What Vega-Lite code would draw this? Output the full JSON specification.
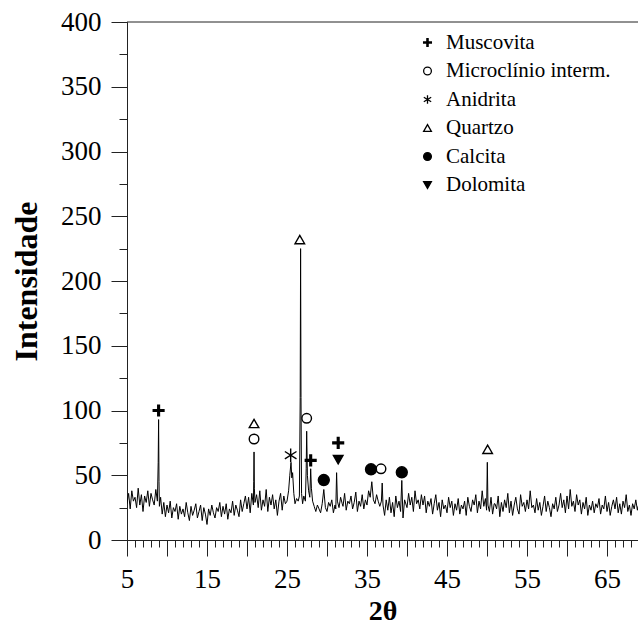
{
  "$schema": "https://vega.github.io/schema/vega-lite/v6.json",
  "width": 511,
  "height": 518,
  "autosize": {"type": "none"},
  "padding": {"left": 127, "top": 22, "right": 0, "bottom": 98},
  "background": "white",
  "config": {"view": {"stroke": null}, "font": "Liberation Serif"},
  "resolve": {"axis": {"x": "independent", "y": "independent"}},
  "layer": [
    {
      "data": {"values": [
        {"x":5.0,"y":28},{"x":5.2,"y":36},{"x":5.4,"y":24},{"x":5.6,"y":38},{"x":5.8,"y":30},
        {"x":6.0,"y":33},{"x":6.2,"y":25},{"x":6.4,"y":40},{"x":6.6,"y":27},{"x":6.8,"y":35},
        {"x":7.0,"y":22},{"x":7.2,"y":34},{"x":7.4,"y":29},{"x":7.6,"y":38},{"x":7.8,"y":26},
        {"x":8.0,"y":36},{"x":8.2,"y":31},{"x":8.4,"y":27},{"x":8.6,"y":39},{"x":8.8,"y":30},
        {"x":8.9,"y":60},{"x":8.95,"y":93},{"x":9.0,"y":45},{"x":9.05,"y":26},
        {"x":9.2,"y":33},{"x":9.4,"y":20},{"x":9.6,"y":29},{"x":9.8,"y":18},
        {"x":10.0,"y":27},{"x":10.2,"y":21},{"x":10.4,"y":30},{"x":10.6,"y":17},{"x":10.8,"y":25},
        {"x":11.0,"y":22},{"x":11.2,"y":28},{"x":11.4,"y":16},{"x":11.6,"y":26},{"x":11.8,"y":20},
        {"x":12.0,"y":24},{"x":12.2,"y":18},{"x":12.4,"y":29},{"x":12.6,"y":21},{"x":12.8,"y":15},
        {"x":13.0,"y":26},{"x":13.2,"y":19},{"x":13.4,"y":23},{"x":13.6,"y":28},{"x":13.8,"y":17},
        {"x":14.0,"y":22},{"x":14.2,"y":27},{"x":14.4,"y":15},{"x":14.6,"y":25},{"x":14.8,"y":20},
        {"x":15.0,"y":12},{"x":15.2,"y":24},{"x":15.4,"y":19},{"x":15.6,"y":27},{"x":15.8,"y":21},
        {"x":16.0,"y":17},{"x":16.2,"y":25},{"x":16.4,"y":22},{"x":16.6,"y":29},{"x":16.8,"y":18},
        {"x":17.0,"y":26},{"x":17.2,"y":20},{"x":17.4,"y":28},{"x":17.6,"y":16},{"x":17.8,"y":24},
        {"x":18.0,"y":21},{"x":18.2,"y":30},{"x":18.4,"y":19},{"x":18.6,"y":27},{"x":18.8,"y":23},
        {"x":19.0,"y":18},{"x":19.2,"y":31},{"x":19.4,"y":22},{"x":19.6,"y":28},{"x":19.8,"y":34},
        {"x":20.0,"y":24},{"x":20.2,"y":33},{"x":20.4,"y":21},{"x":20.6,"y":36},{"x":20.8,"y":27},
        {"x":20.84,"y":45},{"x":20.88,"y":68},{"x":20.92,"y":40},{"x":21.0,"y":29},
        {"x":21.2,"y":35},{"x":21.4,"y":25},{"x":21.6,"y":38},{"x":21.8,"y":23},
        {"x":22.0,"y":31},{"x":22.2,"y":26},{"x":22.4,"y":39},{"x":22.6,"y":22},{"x":22.8,"y":33},
        {"x":23.0,"y":27},{"x":23.2,"y":35},{"x":23.4,"y":24},{"x":23.6,"y":31},{"x":23.8,"y":19},
        {"x":24.0,"y":30},{"x":24.2,"y":36},{"x":24.4,"y":23},{"x":24.6,"y":34},{"x":24.8,"y":28},
        {"x":25.0,"y":30},{"x":25.2,"y":38},{"x":25.35,"y":50},{"x":25.5,"y":60},{"x":25.6,"y":48},
        {"x":25.7,"y":52},{"x":25.85,"y":36},{"x":26.0,"y":28},{"x":26.2,"y":32},{"x":26.4,"y":30},
        {"x":26.55,"y":34},{"x":26.65,"y":110},{"x":26.7,"y":225},{"x":26.75,"y":110},{"x":26.82,"y":36},
        {"x":26.95,"y":28},{"x":27.1,"y":34},{"x":27.3,"y":30},{"x":27.4,"y":55},{"x":27.46,"y":84},
        {"x":27.55,"y":50},{"x":27.7,"y":38},{"x":27.85,"y":33},{"x":27.96,"y":55},{"x":28.05,"y":40},
        {"x":28.2,"y":30},{"x":28.4,"y":26},{"x":28.6,"y":22},{"x":28.8,"y":27},
        {"x":29.0,"y":24},{"x":29.2,"y":21},{"x":29.4,"y":28},{"x":29.6,"y":39},{"x":29.8,"y":25},
        {"x":30.0,"y":22},{"x":30.2,"y":29},{"x":30.4,"y":26},{"x":30.6,"y":31},{"x":30.8,"y":21},
        {"x":31.0,"y":27},{"x":31.1,"y":24},{"x":31.2,"y":52},{"x":31.3,"y":30},{"x":31.5,"y":25},
        {"x":31.7,"y":33},{"x":31.9,"y":28},
        {"x":32.0,"y":26},{"x":32.2,"y":36},{"x":32.4,"y":23},{"x":32.6,"y":30},{"x":32.8,"y":28},
        {"x":33.0,"y":34},{"x":33.2,"y":24},{"x":33.4,"y":29},{"x":33.6,"y":37},{"x":33.8,"y":22},
        {"x":34.0,"y":30},{"x":34.2,"y":26},{"x":34.4,"y":35},{"x":34.6,"y":24},{"x":34.8,"y":31},
        {"x":35.0,"y":27},{"x":35.2,"y":38},{"x":35.4,"y":33},{"x":35.6,"y":45},{"x":35.8,"y":31},
        {"x":36.0,"y":28},{"x":36.2,"y":35},{"x":36.4,"y":30},{"x":36.6,"y":26},{"x":36.8,"y":30},
        {"x":36.9,"y":44},{"x":37.0,"y":27},
        {"x":37.2,"y":19},{"x":37.4,"y":31},{"x":37.6,"y":23},{"x":37.8,"y":33},
        {"x":38.0,"y":21},{"x":38.2,"y":29},{"x":38.4,"y":18},{"x":38.6,"y":34},{"x":38.8,"y":25},
        {"x":39.0,"y":30},{"x":39.2,"y":22},{"x":39.35,"y":46},{"x":39.5,"y":17},{"x":39.7,"y":31},
        {"x":40.0,"y":25},{"x":40.2,"y":36},{"x":40.4,"y":27},{"x":40.6,"y":33},{"x":40.8,"y":22},
        {"x":41.0,"y":38},{"x":41.2,"y":28},{"x":41.4,"y":31},{"x":41.6,"y":24},{"x":41.8,"y":35},
        {"x":42.0,"y":27},{"x":42.2,"y":34},{"x":42.4,"y":21},{"x":42.6,"y":30},{"x":42.8,"y":26},
        {"x":43.0,"y":32},{"x":43.2,"y":20},{"x":43.4,"y":28},{"x":43.6,"y":35},{"x":43.8,"y":23},
        {"x":44.0,"y":29},{"x":44.2,"y":18},{"x":44.4,"y":31},{"x":44.6,"y":24},{"x":44.8,"y":27},
        {"x":45.0,"y":21},{"x":45.2,"y":33},{"x":45.4,"y":25},{"x":45.6,"y":30},{"x":45.8,"y":19},
        {"x":46.0,"y":28},{"x":46.2,"y":23},{"x":46.4,"y":32},{"x":46.6,"y":20},{"x":46.8,"y":27},
        {"x":47.0,"y":24},{"x":47.2,"y":30},{"x":47.4,"y":19},{"x":47.6,"y":33},{"x":47.8,"y":26},
        {"x":48.0,"y":22},{"x":48.2,"y":31},{"x":48.4,"y":27},{"x":48.6,"y":35},{"x":48.8,"y":21},
        {"x":49.0,"y":30},{"x":49.2,"y":24},{"x":49.4,"y":38},{"x":49.6,"y":26},{"x":49.8,"y":32},
        {"x":49.95,"y":23},{"x":50.04,"y":60},{"x":50.12,"y":27},
        {"x":50.3,"y":22},{"x":50.5,"y":33},{"x":50.7,"y":20},{"x":50.9,"y":28},
        {"x":51.0,"y":28},{"x":51.2,"y":24},{"x":51.4,"y":34},{"x":51.6,"y":18},{"x":51.8,"y":29},
        {"x":52.0,"y":22},{"x":52.2,"y":31},{"x":52.4,"y":25},{"x":52.6,"y":36},{"x":52.8,"y":21},
        {"x":53.0,"y":30},{"x":53.2,"y":19},{"x":53.4,"y":27},{"x":53.6,"y":33},{"x":53.8,"y":24},
        {"x":54.0,"y":20},{"x":54.2,"y":35},{"x":54.4,"y":26},{"x":54.6,"y":29},{"x":54.8,"y":22},
        {"x":55.0,"y":31},{"x":55.2,"y":24},{"x":55.4,"y":38},{"x":55.6,"y":25},{"x":55.8,"y":27},
        {"x":56.0,"y":21},{"x":56.2,"y":32},{"x":56.4,"y":23},{"x":56.6,"y":29},{"x":56.8,"y":19},
        {"x":57.0,"y":26},{"x":57.2,"y":34},{"x":57.4,"y":22},{"x":57.6,"y":30},{"x":57.8,"y":25},
        {"x":58.0,"y":18},{"x":58.2,"y":28},{"x":58.4,"y":24},{"x":58.6,"y":33},{"x":58.8,"y":22},
        {"x":59.0,"y":27},{"x":59.2,"y":36},{"x":59.4,"y":25},{"x":59.6,"y":31},{"x":59.8,"y":21},
        {"x":60.0,"y":34},{"x":60.2,"y":24},{"x":60.4,"y":39},{"x":60.6,"y":26},{"x":60.8,"y":30},
        {"x":61.0,"y":22},{"x":61.2,"y":35},{"x":61.4,"y":27},{"x":61.6,"y":31},{"x":61.8,"y":20},
        {"x":62.0,"y":29},{"x":62.2,"y":24},{"x":62.4,"y":33},{"x":62.6,"y":19},{"x":62.8,"y":27},
        {"x":63.0,"y":23},{"x":63.2,"y":30},{"x":63.4,"y":21},{"x":63.6,"y":28},{"x":63.8,"y":25},
        {"x":64.0,"y":32},{"x":64.2,"y":20},{"x":64.4,"y":27},{"x":64.6,"y":24},{"x":64.8,"y":34},
        {"x":65.0,"y":22},{"x":65.2,"y":29},{"x":65.4,"y":19},{"x":65.6,"y":26},{"x":65.8,"y":31},
        {"x":66.0,"y":24},{"x":66.2,"y":33},{"x":66.4,"y":21},{"x":66.6,"y":28},{"x":66.8,"y":20},
        {"x":67.0,"y":30},{"x":67.2,"y":25},{"x":67.4,"y":35},{"x":67.6,"y":22},{"x":67.8,"y":27},
        {"x":68.0,"y":19},{"x":68.2,"y":28},{"x":68.4,"y":24},{"x":68.6,"y":31},{"x":68.8,"y":23},
        {"x":68.875,"y":26}
      ]},
      "mark": {"type": "line", "color": "black", "strokeWidth": 1, "clip": true},
      "encoding": {
        "x": {
          "field": "x", "type": "quantitative",
          "scale": {"domain": [5, 68.875], "nice": false, "zero": false},
          "axis": {
            "orient": "bottom",
            "values": [5,10,15,20,25,30,35,40,45,50,55,60,65],
            "labelExpr": "(datum.value - 5) % 10 === 0 ? datum.label : ''",
            "tickSize": 16,
            "grid": false,
            "domainColor": "#222", "tickColor": "#222",
            "labelFont": "Liberation Serif", "labelFontSize": 27, "labelColor": "black",
            "labelPadding": 10, "labelFlush": false, "labelOverlap": false, "labelBound": false,
            "title": "2θ", "titleFont": "Liberation Serif", "titleFontSize": 28,
            "titleFontWeight": "bold", "titleColor": "black", "titlePadding": 5
          }
        },
        "y": {
          "field": "y", "type": "quantitative",
          "scale": {"domain": [0, 400], "nice": false},
          "axis": {
            "orient": "left",
            "values": [0,50,100,150,200,250,300,350,400],
            "tickSize": 16,
            "grid": false,
            "domainColor": "#222", "tickColor": "#222",
            "labelFont": "Liberation Serif", "labelFontSize": 27, "labelColor": "black",
            "labelPadding": 10, "labelFlush": false, "labelOverlap": false, "labelBound": false,
            "title": "Intensidade", "titleFont": "Liberation Serif", "titleFontSize": 32,
            "titleFontWeight": "bold", "titleColor": "black", "titlePadding": 17
          }
        }
      }
    },
    {
      "data": {"values": [
        {"x": 8.95, "y": 100, "mineral": "Muscovita"},
        {"x": 27.96, "y": 61.5, "mineral": "Muscovita"},
        {"x": 31.4, "y": 75, "mineral": "Muscovita"},
        {"x": 20.88, "y": 78, "mineral": "Microclínio interm."},
        {"x": 27.46, "y": 94, "mineral": "Microclínio interm."},
        {"x": 36.75, "y": 55, "mineral": "Microclínio interm."},
        {"x": 25.46, "y": 65.5, "mineral": "Anidrita"},
        {"x": 20.88, "y": 90, "mineral": "Quartzo"},
        {"x": 26.6, "y": 232, "mineral": "Quartzo"},
        {"x": 50.08, "y": 70, "mineral": "Quartzo"},
        {"x": 29.6, "y": 46.3, "mineral": "Calcita"},
        {"x": 35.5, "y": 54.6, "mineral": "Calcita"},
        {"x": 39.35, "y": 52.3, "mineral": "Calcita"},
        {"x": 31.4, "y": 62, "mineral": "Dolomita"}
      ]},
      "mark": {"type": "point", "filled": true, "stroke": "black", "strokeWidth": 1.4, "opacity": 1},
      "encoding": {
        "x": {
          "field": "x", "type": "quantitative",
          "axis": {
            "orient": "bottom",
            "values": [5,6,7,8,9,10,11,12,13,14,15,16,17,18,19,20,21,22,23,24,25,26,27,28,29,30,31,32,33,34,35,36,37,38,39,40,41,42,43,44,45,46,47,48,49,50,51,52,53,54,55,56,57,58,59,60,61,62,63,64,65,66,67,68],
            "tickSize": 7, "labels": false, "domain": false, "grid": false, "title": null, "tickColor": "#222"
          }
        },
        "y": {
          "field": "y", "type": "quantitative",
          "axis": {
            "orient": "left",
            "values": [0,25,50,75,100,125,150,175,200,225,250,275,300,325,350,375,400],
            "tickSize": 8, "labels": false, "domain": false, "grid": false, "title": null, "tickColor": "#222"
          }
        },
        "size": {
          "condition": [
            {"test": "datum.mineral === 'Anidrita'", "value": 150},
            {"test": "datum.mineral === 'Calcita'", "value": 120},
            {"test": "datum.mineral === 'Muscovita'", "value": 115}
          ],
          "value": 92
        },
        "shape": {
          "field": "mineral", "type": "nominal",
          "scale": {
            "domain": ["Muscovita", "Microclínio interm.", "Anidrita", "Quartzo", "Calcita", "Dolomita"],
            "range": ["M-1,-0.16H-0.16V-1H0.16V-0.16H1V0.16H0.16V1H-0.16V0.16H-1Z", "circle", "M0,-1.1L0,1.1M-0.95,-0.6L0.95,0.6M-0.95,0.6L0.95,-0.6", "triangle-up", "circle", "triangle-down"]
          },
          "legend": {
            "title": null, "orient": "none", "legendX": 290, "legendY": 10,
            "padding": 0, "symbolSize": 60, "symbolStrokeWidth": 1.3, "symbolStrokeColor": "black",
            "labelFont": "Liberation Serif", "labelFontSize": 21, "labelColor": "black",
            "labelOffset": 8, "rowPadding": 6.5, "symbolOpacity": 1, "labelLimit": 400,
            "encode": {"symbols": {"update": {"stroke": {"value": "black"}, "strokeWidth": {"value": 1.3}, "size": {"value": 60}}}}
          }
        },
        "fill": {
          "field": "mineral", "type": "nominal",
          "scale": {
            "domain": ["Muscovita", "Microclínio interm.", "Anidrita", "Quartzo", "Calcita", "Dolomita"],
            "range": ["black", "white", "black", "white", "black", "black"]
          },
          "legend": {
            "title": null, "orient": "none", "legendX": 290, "legendY": 10,
            "padding": 0, "symbolSize": 60, "symbolStrokeWidth": 1.3, "symbolStrokeColor": "black",
            "labelFont": "Liberation Serif", "labelFontSize": 21, "labelColor": "black",
            "labelOffset": 8, "rowPadding": 6.5, "symbolOpacity": 1, "labelLimit": 400,
            "encode": {"symbols": {"update": {"stroke": {"value": "black"}, "strokeWidth": {"value": 1.3}, "size": {"value": 60}}}}
          }
        }
      }
    },
    {
      "data": {"values": [{"y": 400}]},
      "mark": {"type": "rule", "color": "#222", "strokeWidth": 1},
      "encoding": {"y": {"field": "y", "type": "quantitative", "axis": null}}
    }
  ]
}
